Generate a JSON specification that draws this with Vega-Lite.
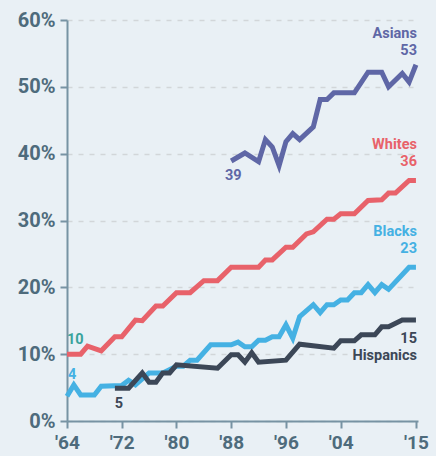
{
  "$schema": "https://vega.github.io/schema/vega-lite/v6.json",
  "width": 351,
  "height": 401,
  "autosize": {"type": "none"},
  "padding": {"left": 67, "top": 20, "right": 18, "bottom": 35},
  "background": "#e9f0f5",
  "config": {
    "view": {"stroke": null},
    "font": "Roboto, Liberation Sans, sans-serif"
  },
  "datasets": {
    "series": [
      {"group": "Whites", "year": 1964, "value": 10},
      {"group": "Whites", "year": 1966, "value": 10},
      {"group": "Whites", "year": 1967, "value": 11.2},
      {"group": "Whites", "year": 1969, "value": 10.5},
      {"group": "Whites", "year": 1971, "value": 12.6},
      {"group": "Whites", "year": 1972, "value": 12.6},
      {"group": "Whites", "year": 1974, "value": 15.1},
      {"group": "Whites", "year": 1975, "value": 15.0},
      {"group": "Whites", "year": 1977, "value": 17.2},
      {"group": "Whites", "year": 1978, "value": 17.2},
      {"group": "Whites", "year": 1980, "value": 19.2},
      {"group": "Whites", "year": 1982, "value": 19.2},
      {"group": "Whites", "year": 1984, "value": 21.0},
      {"group": "Whites", "year": 1986, "value": 21.0},
      {"group": "Whites", "year": 1988, "value": 23.0},
      {"group": "Whites", "year": 1992, "value": 23.0},
      {"group": "Whites", "year": 1993, "value": 24.1},
      {"group": "Whites", "year": 1994, "value": 24.1},
      {"group": "Whites", "year": 1996, "value": 26.0},
      {"group": "Whites", "year": 1997, "value": 26.0},
      {"group": "Whites", "year": 1999, "value": 28.0},
      {"group": "Whites", "year": 2000, "value": 28.3},
      {"group": "Whites", "year": 2002, "value": 30.2},
      {"group": "Whites", "year": 2003, "value": 30.2},
      {"group": "Whites", "year": 2004, "value": 31.0},
      {"group": "Whites", "year": 2006, "value": 31.0},
      {"group": "Whites", "year": 2008, "value": 33.0},
      {"group": "Whites", "year": 2010, "value": 33.1},
      {"group": "Whites", "year": 2011, "value": 34.1},
      {"group": "Whites", "year": 2012, "value": 34.1},
      {"group": "Whites", "year": 2014, "value": 36.0},
      {"group": "Whites", "year": 2015, "value": 36.0},
      {"group": "Blacks", "year": 1964, "value": 3.7},
      {"group": "Blacks", "year": 1965, "value": 5.4},
      {"group": "Blacks", "year": 1966, "value": 3.9},
      {"group": "Blacks", "year": 1968, "value": 3.9},
      {"group": "Blacks", "year": 1969, "value": 5.2},
      {"group": "Blacks", "year": 1972, "value": 5.3},
      {"group": "Blacks", "year": 1973, "value": 6.1},
      {"group": "Blacks", "year": 1974, "value": 5.4},
      {"group": "Blacks", "year": 1976, "value": 7.2},
      {"group": "Blacks", "year": 1978, "value": 7.2},
      {"group": "Blacks", "year": 1980, "value": 8.2},
      {"group": "Blacks", "year": 1981, "value": 8.2},
      {"group": "Blacks", "year": 1982, "value": 9.1},
      {"group": "Blacks", "year": 1983, "value": 9.1},
      {"group": "Blacks", "year": 1985, "value": 11.4},
      {"group": "Blacks", "year": 1988, "value": 11.4},
      {"group": "Blacks", "year": 1989, "value": 11.8},
      {"group": "Blacks", "year": 1990, "value": 11.1},
      {"group": "Blacks", "year": 1991, "value": 11.1},
      {"group": "Blacks", "year": 1992, "value": 12.1},
      {"group": "Blacks", "year": 1993, "value": 12.1},
      {"group": "Blacks", "year": 1994, "value": 12.6},
      {"group": "Blacks", "year": 1995, "value": 12.6},
      {"group": "Blacks", "year": 1996, "value": 14.4},
      {"group": "Blacks", "year": 1997, "value": 12.4},
      {"group": "Blacks", "year": 1998, "value": 15.6},
      {"group": "Blacks", "year": 2000, "value": 17.4},
      {"group": "Blacks", "year": 2001, "value": 16.2},
      {"group": "Blacks", "year": 2002, "value": 17.4},
      {"group": "Blacks", "year": 2003, "value": 17.4},
      {"group": "Blacks", "year": 2004, "value": 18.1},
      {"group": "Blacks", "year": 2005, "value": 18.1},
      {"group": "Blacks", "year": 2006, "value": 19.2},
      {"group": "Blacks", "year": 2007, "value": 19.2},
      {"group": "Blacks", "year": 2008, "value": 20.4},
      {"group": "Blacks", "year": 2009, "value": 19.2},
      {"group": "Blacks", "year": 2010, "value": 20.4},
      {"group": "Blacks", "year": 2011, "value": 19.7},
      {"group": "Blacks", "year": 2014, "value": 23.0},
      {"group": "Blacks", "year": 2015, "value": 23.0},
      {"group": "Hispanics", "year": 1971, "value": 4.9},
      {"group": "Hispanics", "year": 1973, "value": 4.9},
      {"group": "Hispanics", "year": 1975, "value": 7.2},
      {"group": "Hispanics", "year": 1976, "value": 5.8},
      {"group": "Hispanics", "year": 1977, "value": 5.8},
      {"group": "Hispanics", "year": 1978, "value": 7.2},
      {"group": "Hispanics", "year": 1979, "value": 7.2},
      {"group": "Hispanics", "year": 1980, "value": 8.4},
      {"group": "Hispanics", "year": 1986, "value": 7.9},
      {"group": "Hispanics", "year": 1988, "value": 9.9},
      {"group": "Hispanics", "year": 1989, "value": 9.9},
      {"group": "Hispanics", "year": 1990, "value": 8.8},
      {"group": "Hispanics", "year": 1991, "value": 10.2},
      {"group": "Hispanics", "year": 1992, "value": 8.8},
      {"group": "Hispanics", "year": 1996, "value": 9.1},
      {"group": "Hispanics", "year": 1998, "value": 11.5},
      {"group": "Hispanics", "year": 2003, "value": 10.9},
      {"group": "Hispanics", "year": 2004, "value": 12.0},
      {"group": "Hispanics", "year": 2006, "value": 12.0},
      {"group": "Hispanics", "year": 2007, "value": 12.9},
      {"group": "Hispanics", "year": 2009, "value": 12.9},
      {"group": "Hispanics", "year": 2010, "value": 14.1},
      {"group": "Hispanics", "year": 2011, "value": 14.1},
      {"group": "Hispanics", "year": 2013, "value": 15.1},
      {"group": "Hispanics", "year": 2015, "value": 15.1},
      {"group": "Asians", "year": 1988, "value": 38.9},
      {"group": "Asians", "year": 1990, "value": 40.1},
      {"group": "Asians", "year": 1992, "value": 38.8},
      {"group": "Asians", "year": 1993, "value": 42.1},
      {"group": "Asians", "year": 1994, "value": 41.0},
      {"group": "Asians", "year": 1995, "value": 38.2},
      {"group": "Asians", "year": 1996, "value": 41.8},
      {"group": "Asians", "year": 1997, "value": 43.0},
      {"group": "Asians", "year": 1998, "value": 42.1},
      {"group": "Asians", "year": 2000, "value": 44.0},
      {"group": "Asians", "year": 2001, "value": 48.1},
      {"group": "Asians", "year": 2002, "value": 48.1},
      {"group": "Asians", "year": 2003, "value": 49.1},
      {"group": "Asians", "year": 2006, "value": 49.1},
      {"group": "Asians", "year": 2008, "value": 52.2},
      {"group": "Asians", "year": 2010, "value": 52.2},
      {"group": "Asians", "year": 2011, "value": 50.0},
      {"group": "Asians", "year": 2013, "value": 52.0},
      {"group": "Asians", "year": 2014, "value": 50.7},
      {"group": "Asians", "year": 2015, "value": 53.3}
    ],
    "labels": [
      {"group": "Asians", "year": 2015, "value": 53.3, "label": "Asians", "kind": "asiansName"},
      {"group": "Asians", "year": 2015, "value": 53.3, "label": "53", "kind": "asiansValue"},
      {"group": "Whites", "year": 2015, "value": 36.0, "label": "Whites", "kind": "endName"},
      {"group": "Whites", "year": 2015, "value": 36.0, "label": "36", "kind": "endValue"},
      {"group": "Blacks", "year": 2015, "value": 23.0, "label": "Blacks", "kind": "endName"},
      {"group": "Blacks", "year": 2015, "value": 23.0, "label": "23", "kind": "endValue"},
      {"group": "Hispanics", "year": 2015, "value": 15.1, "label": "15", "kind": "hispValue"},
      {"group": "Hispanics", "year": 2015, "value": 15.1, "label": "Hispanics", "kind": "hispName"},
      {"group": "Asians", "year": 1988, "value": 38.9, "label": "39", "kind": "start39"},
      {"group": "Hispanics", "year": 1971, "value": 4.9, "label": "5", "kind": "start5"},
      {"group": "Whites", "year": 1964, "value": 10, "label": "10", "kind": "start10"},
      {"group": "Blacks", "year": 1964, "value": 3.7, "label": "4", "kind": "start4"}
    ]
  },
  "encoding": {
    "x": {"field": "year", "type": "quantitative"},
    "y": {"field": "value", "type": "quantitative"}
  },
  "layer": [
    {
      "data": {"name": "series"},
      "mark": {"type": "line", "strokeWidth": 5, "strokeJoin": "miter"},
      "encoding": {
        "x": {
          "field": "year", "type": "quantitative",
          "scale": {"domain": [1964, 2015.3], "nice": false, "zero": false},
          "axis": {
            "values": [1964, 1972, 1980, 1988, 1996, 2004, 2015],
            "labelExpr": "\"'\" + substring(toString(datum.value), 2)",
            "grid": false, "title": null,
            "domainColor": "#7793a3", "domainWidth": 2,
            "tickColor": "#7793a3", "tickWidth": 2, "tickSize": 7,
            "labelFontSize": 19, "labelFontWeight": "bold", "labelColor": "#4e6b7c",
            "labelPadding": 5, "labelFlush": false
          }
        },
        "y": {
          "field": "value", "type": "quantitative",
          "scale": {"domain": [0, 60], "nice": false},
          "axis": {
            "values": [0, 10, 20, 30, 40, 50, 60],
            "labelExpr": "datum.value + '%'",
            "title": null,
            "grid": true, "gridColor": "#d2d6d9", "gridDash": [5, 6], "gridWidth": 1.5,
            "domainColor": "#7793a3", "domainWidth": 2,
            "tickColor": "#7793a3", "tickWidth": 2, "tickSize": 7,
            "labelFontSize": 20, "labelFontWeight": "bold", "labelColor": "#4e6b7c",
            "labelPadding": 5
          }
        },
        "color": {
          "field": "group", "type": "nominal",
          "scale": {"domain": ["Whites", "Blacks", "Hispanics", "Asians"], "range": ["#e8626a", "#45b1e3", "#3c4757", "#5f67a6"]},
          "legend": null
        },
        "order": {"field": "year", "type": "quantitative"}
      }
    },
    {
      "data": {"name": "labels"},
      "transform": [{"filter": "datum.kind == 'asiansName'"}],
      "mark": {"type": "text", "align": "right", "baseline": "alphabetic", "dx": 1, "dy": -27, "fontSize": 14.5, "fontWeight": "bold"},
      "encoding": {"text": {"field": "label"}, "color": {"field": "group", "type": "nominal", "legend": null}}
    },
    {
      "data": {"name": "labels"},
      "transform": [{"filter": "datum.kind == 'asiansValue'"}],
      "mark": {"type": "text", "align": "right", "baseline": "alphabetic", "dx": 1, "dy": -10, "fontSize": 14.5, "fontWeight": "bold"},
      "encoding": {"text": {"field": "label"}, "color": {"field": "group", "type": "nominal", "legend": null}}
    },
    {
      "data": {"name": "labels"},
      "transform": [{"filter": "datum.kind == 'endName'"}],
      "mark": {"type": "text", "align": "right", "baseline": "alphabetic", "dx": 1, "dy": -31, "fontSize": 14.5, "fontWeight": "bold"},
      "encoding": {"text": {"field": "label"}, "color": {"field": "group", "type": "nominal", "legend": null}}
    },
    {
      "data": {"name": "labels"},
      "transform": [{"filter": "datum.kind == 'endValue'"}],
      "mark": {"type": "text", "align": "right", "baseline": "alphabetic", "dx": 1, "dy": -14, "fontSize": 14.5, "fontWeight": "bold"},
      "encoding": {"text": {"field": "label"}, "color": {"field": "group", "type": "nominal", "legend": null}}
    },
    {
      "data": {"name": "labels"},
      "transform": [{"filter": "datum.kind == 'hispValue'"}],
      "mark": {"type": "text", "align": "right", "baseline": "alphabetic", "dx": 1, "dy": 23, "fontSize": 14.5, "fontWeight": "bold"},
      "encoding": {"text": {"field": "label"}, "color": {"field": "group", "type": "nominal", "legend": null}}
    },
    {
      "data": {"name": "labels"},
      "transform": [{"filter": "datum.kind == 'hispName'"}],
      "mark": {"type": "text", "align": "right", "baseline": "alphabetic", "dx": 1, "dy": 40, "fontSize": 14.5, "fontWeight": "bold"},
      "encoding": {"text": {"field": "label"}, "color": {"field": "group", "type": "nominal", "legend": null}}
    },
    {
      "data": {"name": "labels"},
      "transform": [{"filter": "datum.kind == 'start39'"}],
      "mark": {"type": "text", "align": "center", "baseline": "alphabetic", "dx": 2, "dy": 19, "fontSize": 14.5, "fontWeight": "bold"},
      "encoding": {"text": {"field": "label"}, "color": {"field": "group", "type": "nominal", "legend": null}}
    },
    {
      "data": {"name": "labels"},
      "transform": [{"filter": "datum.kind == 'start5'"}],
      "mark": {"type": "text", "align": "center", "baseline": "alphabetic", "dx": 4, "dy": 20, "fontSize": 14.5, "fontWeight": "bold"},
      "encoding": {"text": {"field": "label"}, "color": {"field": "group", "type": "nominal", "legend": null}}
    },
    {
      "data": {"name": "labels"},
      "transform": [{"filter": "datum.kind == 'start10'"}],
      "mark": {"type": "text", "align": "left", "baseline": "alphabetic", "dx": 0, "dy": -10, "fontSize": 14.5, "fontWeight": "bold", "color": "#3aa39c"},
      "encoding": {"text": {"field": "label"}}
    },
    {
      "data": {"name": "labels"},
      "transform": [{"filter": "datum.kind == 'start4'"}],
      "mark": {"type": "text", "align": "left", "baseline": "alphabetic", "dx": 1, "dy": -17, "fontSize": 14.5, "fontWeight": "bold"},
      "encoding": {"text": {"field": "label"}, "color": {"field": "group", "type": "nominal", "legend": null}}
    }
  ]
}
